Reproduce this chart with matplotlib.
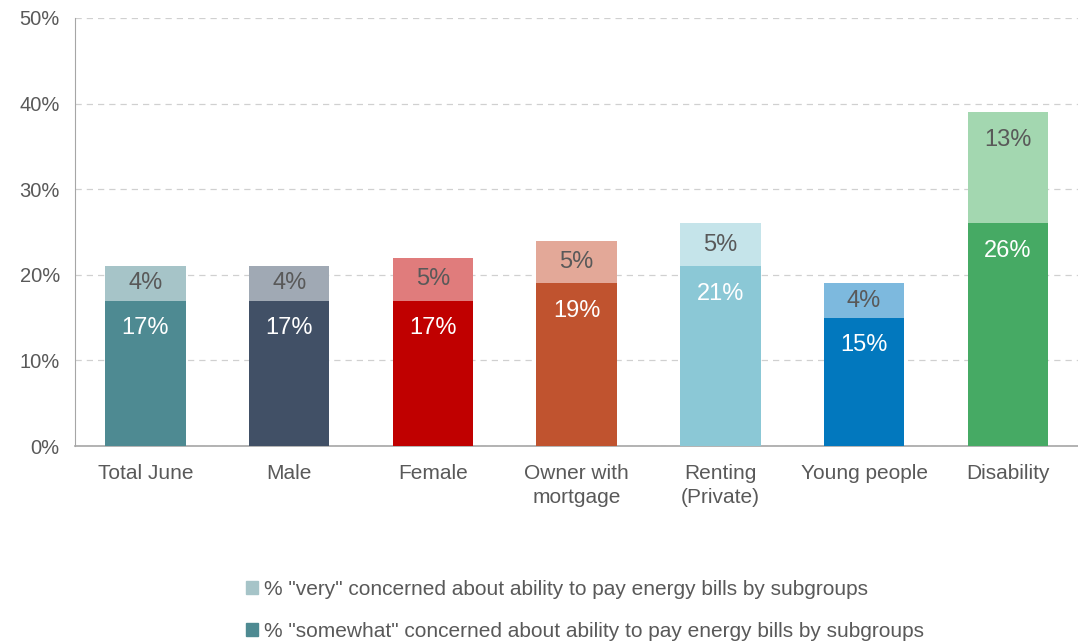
import matplotlib.pyplot as plt
import numpy as np

# ==========================
# DATA
# ==========================

groups = ["Total June", "Male", "Female", "Owner with\nmortgage",
          "Renting\n(Private)", "Young people", "Disability"]

somewhat = [17, 17, 17, 19, 21, 15, 26]
very = [4, 4, 5, 5, 5, 4, 13]

somewhat_colors = ["#4E8A92", "#415066", "#C00000", "#C0532F",
                   "#8BC8D6", "#0278BE", "#46AA64"]
very_colors = ["#A6C4C8", "#A0A9B4", "#E07C7C", "#E3A898",
               "#C5E4EA", "#7DB9DE", "#A3D7B0"]

legend_labels = [
    '% "very" concerned about ability to pay energy bills by subgroups',
    '% "somewhat" concerned about ability to pay energy bills by subgroups',
]

# ==========================
# PLOT
# ==========================

plt.rcParams['font.family'] = ['Liberation Sans', 'DejaVu Sans']
grey = "#595959"

fig = plt.figure(figsize=(10.78, 6.41), dpi=100)
ax = fig.add_axes([0.0696, 0.304, 0.932, 0.668])

x = np.arange(len(groups))
width = 0.56
inset = 3.2  # label distance below segment top, in % units

ax.bar(x, somewhat, width, color=somewhat_colors, zorder=3)
ax.bar(x, very, width, bottom=somewhat, color=very_colors, zorder=3)

for i in range(len(groups)):
    ax.text(x[i], somewhat[i] - inset, f"{somewhat[i]}%", ha="center", va="center",
            color="white", fontsize=17, zorder=4)
    top = somewhat[i] + very[i]
    y_very = max(top - inset, somewhat[i] + very[i] / 2)
    ax.text(x[i], y_very, f"{very[i]}%", ha="center",
            va="center", color=grey, fontsize=17, zorder=4)

ax.set_xlim(-0.49, 6.5)
ax.set_ylim(0, 50)
ax.set_yticks(range(0, 51, 10))
ax.set_yticklabels([f"{v}%" for v in range(0, 51, 10)])
ax.set_xticks(x)
ax.set_xticklabels(groups, linespacing=1.35)

ax.tick_params(axis="both", length=0, colors=grey)
ax.tick_params(axis="x", pad=13, labelsize=15)
ax.tick_params(axis="y", pad=11, labelsize=14.5)

ax.yaxis.grid(True, linestyle=(0, (5, 4)), color="#D0D0D0", linewidth=0.9, zorder=0)
for s in ["top", "right"]:
    ax.spines[s].set_visible(False)
ax.spines["left"].set_color("#A6A6A6")
ax.spines["bottom"].set_color("#A6A6A6")
ax.spines["bottom"].set_linewidth(1.2)

handles = [plt.Rectangle((0, 0), 1, 1, color=very_colors[0]),
           plt.Rectangle((0, 0), 1, 1, color=somewhat_colors[0])]
leg = fig.legend(handles, legend_labels, loc="center", bbox_to_anchor=(0.543, 0.048),
                 frameon=False, fontsize=15, labelspacing=1.1,
                 handlelength=0.55, handleheight=0.55, handletextpad=0.3)
for t in leg.get_texts():
    t.set_color(grey)

plt.savefig("out.png", dpi=100)
